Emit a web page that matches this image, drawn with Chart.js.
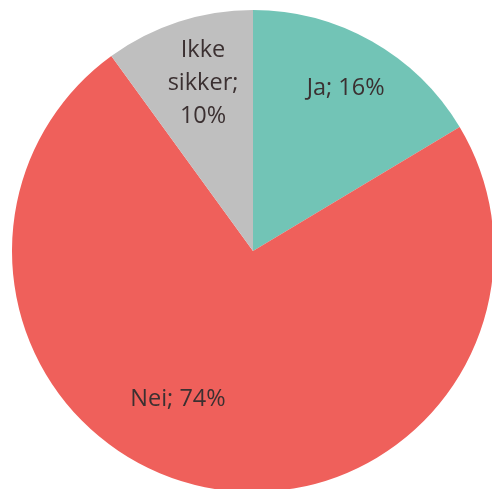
<!DOCTYPE html>
<html><head><meta charset="utf-8">
<script src="https://cdn.jsdelivr.net/npm/chart.js@4/dist/chart.umd.min.js"></script>
<style>html,body{margin:0;padding:0;overflow:hidden;background:#fff;width:492px;height:489px}
#wrap{position:absolute;left:0;top:0;width:506px;height:502px}</style>
</head><body>
<div id="wrap"><canvas id="c" width="506" height="502"></canvas></div>
<script>
const categories = ["Ja", "Nei", "Ikke sikker"];
const values = [16.4, 73.6, 10.0];
const percentLabels = ["16%", "74%", "10%"];
const colors = ["#72C4B6", "#EF605B", "#BFBFBF"];

// label placement: angle offset (deg, relative to slice mid) and radius fraction
const labelPlace = [
  {dAng: 0, rf: 0.78, lines: ["Ja; 16%"]},
  {dAng: 15.5, rf: 0.685, lines: ["Nei; 74%"]},
  {dAng: 1.5, rf: 0.73, lines: ["Ikke", "sikker;", "10%"]}
];

const labelPlugin = {
  id: 'sliceLabels',
  afterDatasetsDraw(chart) {
    const ctx = chart.ctx;
    const meta = chart.getDatasetMeta(0);
    ctx.save();
    ctx.font = '23.5px "Open Sans", sans-serif';
    ctx.fillStyle = '#3B3031';
    ctx.textAlign = 'center';
    ctx.textBaseline = 'middle';
    meta.data.forEach((arc, i) => {
      const p = arc.getProps(['x','y','startAngle','endAngle','outerRadius'], true);
      const mid = (p.startAngle + p.endAngle) / 2 + labelPlace[i].dAng * Math.PI / 180;
      const r = p.outerRadius * labelPlace[i].rf;
      const cx = p.x + Math.cos(mid) * r;
      const cy = p.y + Math.sin(mid) * r;
      const lines = labelPlace[i].lines;
      const lh = 33;
      lines.forEach((t, k) => {
        ctx.fillText(t, cx, cy + 1 + (k - (lines.length - 1) / 2) * lh);
      });
    });
    ctx.restore();
  }
};

new Chart(document.getElementById('c'), {
  type: 'pie',
  data: {
    labels: categories,
    datasets: [{ data: values, backgroundColor: colors, borderWidth: 0 }]
  },
  options: {
    responsive: false,
    animation: false,
    layout: { padding: 10 },
    plugins: { legend: { display: false }, tooltip: { enabled: false } }
  },
  plugins: [labelPlugin]
});
</script>
</body></html>
